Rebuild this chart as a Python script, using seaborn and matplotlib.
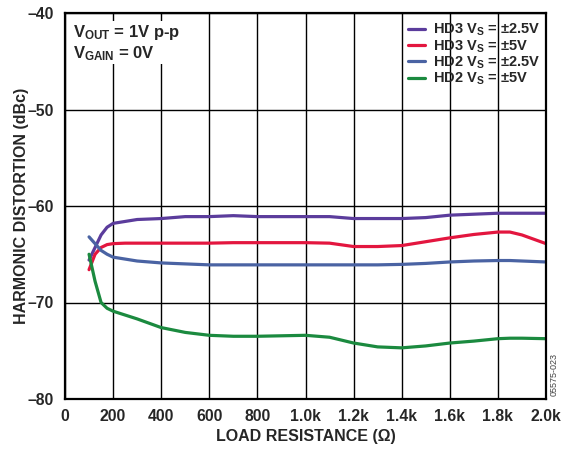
import numpy as np
import pandas as pd
import matplotlib
matplotlib.use("Agg")
import matplotlib.pyplot as plt
import seaborn as sns

# ---- data ----
load = [100, 125, 150, 175, 200, 250, 300, 400, 500, 600, 700, 800, 900, 1000,
        1100, 1200, 1300, 1400, 1500, 1600, 1700, 1800, 1850, 1900, 2000]
hd3_25 = [-65.6, -64.3, -63.0, -62.2, -61.8, -61.6, -61.4, -61.3, -61.1, -61.1, -61.0, -61.1, -61.1, -61.1,
          -61.1, -61.3, -61.3, -61.3, -61.2, -60.95, -60.85, -60.75, -60.75, -60.75, -60.75]
hd3_5 = [-66.6, -65.0, -64.3, -64.0, -63.9, -63.85, -63.85, -63.85, -63.85, -63.85, -63.8, -63.8, -63.8, -63.8,
         -63.85, -64.2, -64.2, -64.1, -63.7, -63.3, -62.95, -62.7, -62.7, -63.0, -63.9]
hd2_25 = [-63.2, -63.9, -64.6, -65.0, -65.3, -65.5, -65.7, -65.9, -66.0, -66.1, -66.1, -66.1, -66.1, -66.1,
          -66.1, -66.1, -66.1, -66.05, -65.95, -65.8, -65.7, -65.65, -65.65, -65.7, -65.8]
hd2_5 = [-65.0, -67.8, -70.0, -70.6, -70.9, -71.3, -71.7, -72.6, -73.1, -73.4, -73.5, -73.5, -73.45, -73.4,
         -73.6, -74.2, -74.6, -74.7, -74.5, -74.2, -74.0, -73.75, -73.7, -73.7, -73.75]

series_names = ["HD3 V$_{S}$ = ±2.5V", "HD3 V$_{S}$ = ±5V", "HD2 V$_{S}$ = ±2.5V", "HD2 V$_{S}$ = ±5V"]
series_vals = [hd3_25, hd3_5, hd2_25, hd2_5]
colors = ["#5b3c9c", "#e3163f", "#4a63a3", "#1b8a3f"]

xticks = [0, 200, 400, 600, 800, 1000, 1200, 1400, 1600, 1800, 2000]
xticklabels = ["0", "200", "400", "600", "800", "1.0k", "1.2k", "1.4k", "1.6k", "1.8k", "2.0k"]
yticks = [-80, -70, -60, -50, -40]

df = pd.concat([pd.DataFrame({"load": load, "dist": v, "series": n})
                for n, v in zip(series_names, series_vals)], ignore_index=True)

sns.set_style("white")
plt.rcParams["font.family"] = ["Liberation Sans", "DejaVu Sans"]
plt.rcParams["font.weight"] = "bold"
plt.rcParams["mathtext.default"] = "regular"

fig = plt.figure(figsize=(5.61, 4.49), dpi=100)
ax = fig.add_axes([65/561, 50/449, 481/561, 386/449])

sns.lineplot(data=df, x="load", y="dist", hue="series", hue_order=series_names,
             palette=colors, linewidth=2.3, ax=ax, legend=True)

ax.set_xlim(0, 2000)
ax.set_ylim(-80, -40)
ax.set_xticks(xticks)
ax.set_xticklabels(xticklabels, fontsize=11.3, fontweight="bold")
ax.set_yticks(yticks)
ax.set_yticklabels([f"\u2013{abs(t)}" for t in yticks], fontsize=11.3, fontweight="bold")
ax.tick_params(axis="x", length=0, pad=7)
ax.tick_params(axis="y", length=0, pad=8)
ax.grid(True, color="black", linewidth=1.0)
ax.set_axisbelow(True)
for s in ax.spines.values():
    s.set_color("black")
    s.set_linewidth(1.6)

ax.set_xlabel("LOAD RESISTANCE (\u03a9)", fontsize=11.5, fontweight="bold")
ax.set_ylabel("HARMONIC DISTORTION (dBc)", fontsize=11.5, fontweight="bold")
ax.xaxis.set_label_coords(0.501, -(436 - 399) / 386)
ax.yaxis.set_label_coords((22 - 65) / 481, 0.5)
ax.xaxis.label.set_va("center")
ax.yaxis.label.set_va("center")

leg = ax.legend(loc="upper right", bbox_to_anchor=(1.005, 1.0), frameon=False,
                fontsize=10.5, handlelength=1.2, handletextpad=0.5, labelspacing=0.0,
                borderaxespad=0.2)
for t in leg.get_texts():
    t.set_fontweight("bold")

ax.text(0.016, 0.975, "V$_{OUT}$ = 1V p-p\nV$_{GAIN}$ = 0V", transform=ax.transAxes,
        ha="left", va="top", fontsize=12, fontweight="bold", linespacing=1.2,
        bbox=dict(facecolor="white", edgecolor="none", pad=1))

fig.text(554/561, 1 - 374/449, "05575-023", rotation=90, ha="center", va="center",
         fontsize=6.5, color="#444444", fontweight="normal")

fig.savefig("out.png", dpi=100)
